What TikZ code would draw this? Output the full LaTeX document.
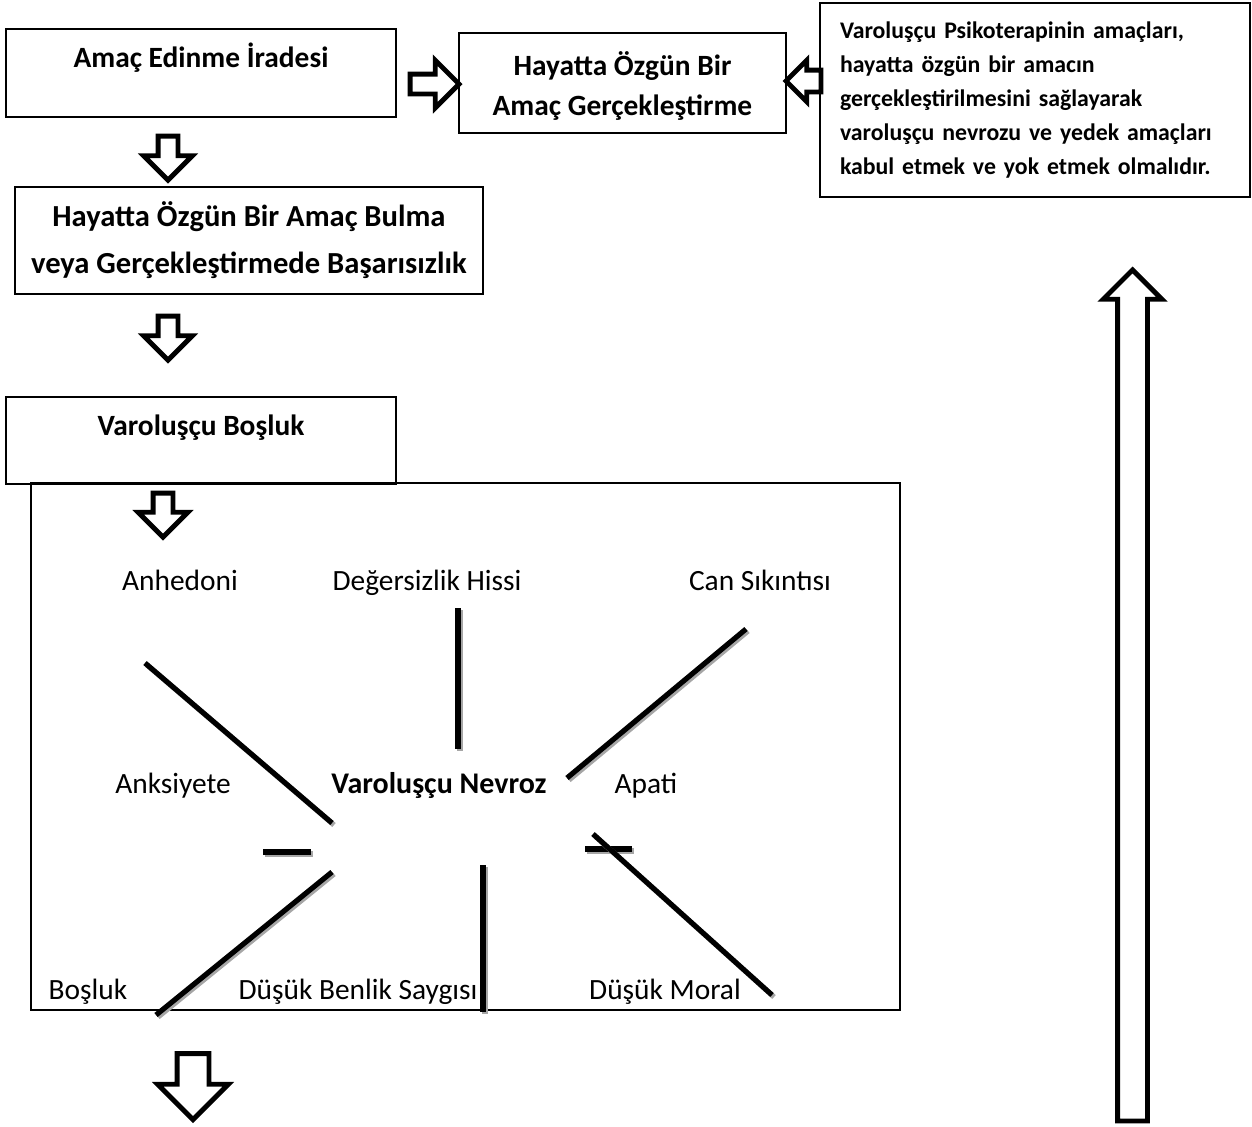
\documentclass[tikz,border=0pt]{standalone}
\usepackage{fontspec}
\setmainfont{Carlito}
\usetikzlibrary{positioning, shapes.arrows}

\tikzset{
  box/.style={draw, rectangle, line width=1pt, inner sep=0pt, align=center,
    font=\bfseries\fontsize{14.7}{20}\selectfont},
  blockarrow/.style={draw, single arrow, line width=2.4pt, fill=white, anchor=tip,
    inner xsep=0pt, minimum width=0pt, single arrow tip angle=90},
  symptom/.style={anchor=base, inner sep=0pt, font=\fontsize{14.7}{17}\selectfont},
  spoke/.style={line width=2.6pt,
    preaction={draw, black!35, line width=2.6pt, transform canvas={shift={(1pt,-1pt)}}}}
}

\begin{document}
\begin{tikzpicture}[x=0.5pt, y=-0.5pt]
\useasboundingbox (0,0) rectangle (1252,1126);

% boxes
\node[box, minimum width=195pt, text height=19pt, text depth=25pt] (will) at (201,73) {Amaç Edinme İradesi};
\node[box, minimum width=163.5pt, minimum height=50pt] (realize) at (622.5,83) {\rule{0pt}{4pt}\\[-9pt]Hayatta Özgün Bir\\Amaç Gerçekleştirme};
\node[box, align=left, font=\bfseries\fontsize{11.9}{17}\selectfont, text width=195pt, inner xsep=10pt,
  minimum height=97pt] (aims) at (1035,100)
  {Varoluşçu Psikoterapinin amaçları,\\hayatta özgün bir amacın\\gerçekleştirilmesini sağlayarak\\varoluşçu nevrozu ve yedek amaçları\\kabul etmek ve yok etmek olmalıdır.};
\node[box, font=\bfseries\fontsize{15.3}{23.5}\selectfont, minimum width=234pt, minimum height=53.5pt] (failure) at (249,240.5)
  {Hayatta Özgün Bir Amaç Bulma\\veya Gerçekleştirmede Başarısızlık};
\node[draw, line width=1pt, minimum width=434.5pt, minimum height=263.5pt] (frame) at (465.5,746.5) {};
\node[box, minimum width=195pt, text height=19pt, text depth=24.5pt] (vacuum) at (201,440.5) {Varoluşçu Boşluk};

% block arrows (placed by their tips)
\node[blockarrow, rotate=-90, minimum height=22pt, single arrow head extend=7.25pt, inner ysep=3.75pt] (down1) at (168,183.5) {};
\node[blockarrow, rotate=-90, minimum height=22pt, single arrow head extend=7.25pt, inner ysep=3.75pt] (down2) at (168,363.5) {};
\node[blockarrow, rotate=-90, minimum height=22pt, single arrow head extend=7.5pt, inner ysep=3.75pt] (down3) at (163,540.5) {};
\node[blockarrow, rotate=-90, minimum height=33pt, single arrow head extend=9.75pt, inner ysep=6.75pt] (down4) at (193,1123) {};
\node[blockarrow, minimum height=24.5pt, single arrow head extend=7pt, inner ysep=3.75pt] (right1) at (462.5,84) {};
\node[blockarrow, rotate=180, minimum height=17.5pt, single arrow head extend=5pt, inner ysep=4.25pt] (left1) at (782.5,81) {};
\node[blockarrow, rotate=90, minimum height=425.5pt, single arrow head extend=7.25pt, inner ysep=6.25pt] (up1) at (1132.5,266.5) {};

% symptoms
\node[symptom] (anhedonia) at (180,590) {Anhedoni};
\node[symptom] (worthless) at (427,590) {Değersizlik Hissi};
\node[symptom] (boredom) at (760,590) {Can Sıkıntısı};
\node[symptom] (anxiety) at (173,793) {Anksiyete};
\node[symptom, font=\bfseries\fontsize{15}{17}\selectfont] (neurosis) at (439,793) {Varoluşçu Nevroz};
\node[symptom] (apathy) at (646,793) {Apati};
\node[symptom] (emptiness) at (88,999) {Boşluk};
\node[symptom] (esteem) at (358,999) {Düşük Benlik Saygısı};
\node[symptom] (morale) at (665,999) {Düşük Moral};

% spokes
\foreach \n/\p/\q in {a/{145,663}/{332,823}, b/{458,608}/{458,749}, c/{746,629}/{567,778},
    d/{263,852}/{311,852}, e/{332,872}/{156,1015}, f/{483,865}/{483,1012},
    g/{585,849}/{632,849}, h/{593,834}/{772,995}} {
  \coordinate (\n0) at (\p);
  \coordinate (\n1) at (\q);
  \draw[spoke] (\n0) -- (\n1);
}
\end{tikzpicture}
\end{document}
